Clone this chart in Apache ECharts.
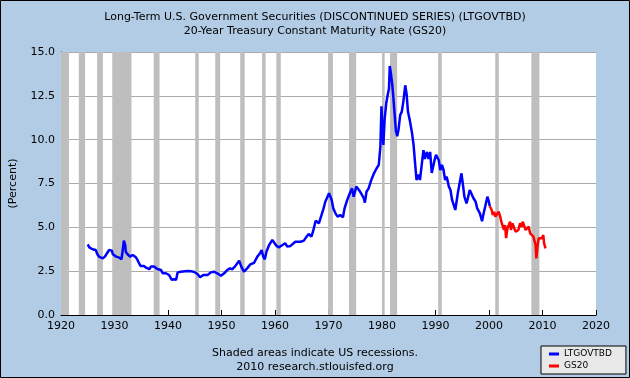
<!DOCTYPE html>
<html>
<head>
<meta charset="utf-8">
<script src="https://cdn.jsdelivr.net/npm/echarts@6/dist/echarts.min.js"></script>
<style>
html,body{margin:0;padding:0;background:#B3CCE5;}
#chart{width:630px;height:378px;}
</style>
</head>
<body>
<div id="chart"></div>
<script>
// ---- Data ----
const titleLines = [
  "Long-Term U.S. Government Securities (DISCONTINUED SERIES) (LTGOVTBD)",
  "20-Year Treasury Constant Maturity Rate (GS20)"
];
const seriesNames = ["LTGOVTBD", "GS20"];
const yTicks = [0, 2.5, 5, 7.5, 10, 12.5, 15];
const xTicks = [1920, 1930, 1940, 1950, 1960, 1970, 1980, 1990, 2000, 2010, 2020];

const recessionStart = [1920.0, 1923.33, 1926.75, 1929.58, 1937.33, 1945.08, 1948.83, 1953.5, 1957.58, 1960.25, 1969.92, 1973.83, 1980.0, 1981.5, 1990.5, 2001.17, 2007.92];
const recessionEnd   = [1921.5, 1924.5, 1927.83, 1933.17, 1938.42, 1945.75, 1949.75, 1954.33, 1958.25, 1961.08, 1970.83, 1975.17, 1980.5, 1982.83, 1991.17, 2001.83, 2009.42];

const ltYears = [
  1925.0,1925.3,1925.9,1926.5,1926.8,1927.1,1927.8,1928.2,1928.6,1929.0,1929.5,1929.7,1930.3,1930.9,1931.3,1931.5,1931.75,1932.0,1932.1,1932.4,1932.9,1933.4,1933.7,1934.0,1934.3,1934.6,1934.9,1935.2,1935.5,1935.9,1936.5,1936.8,1937.4,1938.0,1938.7,1939.0,1939.6,1939.9,1940.2,1940.7,1941.1,1941.5,1941.8,1942.4,1943.6,1944.3,1944.9,1945.5,1946.0,1946.6,1947.4,1948.0,1948.6,1949.2,1949.9,1950.5,1951.1,1951.6,1952.0,1952.5,1953.3,1953.7,1954.2,1954.8,1955.4,1956.1,1956.7,1957.2,1957.5,1957.8,1958.1,1958.4,1958.9,1959.5,1959.8,1960.3,1960.7,1961.4,1961.9,1962.3,1962.9,1963.8,1964.8,1965.4,1965.9,1966.3,1966.8,1967.1,1967.6,1968.2,1968.6,1969.0,1969.4,1970.1,1970.6,1970.9,1971.3,1971.7,1972.2,1972.7,1973.0,1973.5,1974.1,1974.4,1974.7,1975.2,1975.7,1976.1,1976.6,1976.8,1977.1,1977.5,1978.0,1978.5,1979.0,1979.4,1979.7,1979.9,1980.05,1980.25,1980.5,1980.8,1981.1,1981.3,1981.45,1981.7,1981.9,1982.1,1982.35,1982.6,1982.85,1983.1,1983.4,1983.7,1984.0,1984.35,1984.6,1984.85,1985.2,1985.6,1985.9,1986.2,1986.45,1986.8,1987.1,1987.4,1987.75,1988.0,1988.4,1988.7,1989.0,1989.3,1989.8,1990.1,1990.6,1990.9,1991.2,1991.5,1991.8,1992.1,1992.5,1992.8,1993.1,1993.7,1994.2,1994.85,1995.1,1995.4,1995.8,1996.0,1996.4,1996.7,1997.1,1997.5,1997.8,1998.3,1998.7,1999.0,1999.3,1999.7,1999.95,2000.15
];
const ltValues = [
  4.03,3.86,3.75,3.71,3.46,3.33,3.23,3.33,3.52,3.71,3.67,3.46,3.33,3.27,3.18,3.61,4.24,3.99,3.61,3.48,3.33,3.42,3.52,3.29,3.14,2.95,2.79,2.85,2.79,2.70,2.61,2.76,2.76,2.62,2.57,2.38,2.38,2.28,2.28,2.00,2.04,2.00,2.43,2.47,2.51,2.50,2.45,2.34,2.15,2.28,2.28,2.43,2.47,2.38,2.24,2.38,2.57,2.66,2.61,2.76,3.10,2.76,2.47,2.66,2.89,2.98,3.33,3.52,3.71,3.33,3.18,3.61,3.99,4.28,4.34,3.94,3.86,3.99,4.09,3.90,3.94,4.18,4.18,4.24,4.47,4.62,4.47,4.75,5.38,5.23,5.61,5.99,6.46,6.94,6.56,6.08,5.80,5.61,5.70,5.57,6.08,6.56,7.03,7.22,6.75,7.32,7.13,6.94,6.66,6.41,7.03,7.22,7.70,8.08,8.37,8.56,9.6,11.9,10.8,9.7,11.2,12.1,12.6,12.9,14.2,13.7,13.2,12.5,11.5,10.5,10.2,10.6,11.4,11.6,12.2,13.1,12.6,11.6,11.1,10.4,9.7,8.6,7.7,8.0,7.7,8.5,9.4,8.9,9.3,8.9,9.3,8.1,8.8,9.13,8.84,8.27,8.56,8.27,7.70,7.89,7.32,7.13,6.56,5.99,7.0,8.08,7.51,6.75,6.37,6.6,7.13,7.03,6.66,6.46,6.08,5.80,5.35,5.8,6.2,6.75,6.5,6.2
];

const gsYears = [
  2000.15,2000.5,2000.7,2000.95,2001.2,2001.5,2001.8,2002.1,2002.3,2002.6,2002.8,2003.0,2003.2,2003.45,2003.7,2003.95,2004.1,2004.4,2004.7,2005.0,2005.3,2005.5,2005.8,2006.1,2006.3,2006.55,2006.85,2007.15,2007.4,2007.7,2008.0,2008.3,2008.5,2008.7,2008.85,2009.1,2009.3,2009.55,2009.85,2010.15,2010.3,2010.55
];
const gsValues = [
  6.20,5.99,5.70,5.89,5.61,5.70,5.89,5.61,5.32,5.23,4.85,5.13,4.38,4.95,5.13,5.32,4.85,5.23,4.95,4.75,4.66,4.85,5.23,5.04,5.32,5.23,4.85,4.95,5.04,4.66,4.66,4.47,4.56,3.99,3.23,3.99,4.38,4.47,4.38,4.56,4.09,3.80
];

const footerLines = ["Shaded areas indicate US recessions.", "2010 research.stlouisfed.org"];

// ---- Build chart ----
const FONT = "DejaVu Sans";
const ltData = ltYears.map((x, i) => [x, ltValues[i]]);
const gsData = gsYears.map((x, i) => [x, gsValues[i]]);
const bands = recessionStart.map((s, i) => [{ xAxis: s }, { xAxis: recessionEnd[i] }]);

const chart = echarts.init(document.getElementById('chart'), null, { renderer: 'canvas' });
chart.setOption({
  backgroundColor: '#B3CCE5',
  animation: false,
  textStyle: { fontFamily: FONT },
  grid: { left: 60, top: 52, width: 536, height: 263, show: true, backgroundColor: '#FFFFFF', borderWidth: 0 },
  title: {
    text: titleLines.join('\n'),
    left: 'center',
    top: 5,
    textStyle: { fontFamily: FONT, fontSize: 11, fontWeight: 'normal', color: '#000', lineHeight: 14 }
  },
  legend: {
    orient: 'vertical',
    left: 541, top: 346,
    backgroundColor: '#E8E8E8',
    borderColor: '#000', borderWidth: 1,
    padding: [3, 14, 3, 8],
    itemWidth: 10, itemHeight: 3, itemGap: 2,
    icon: 'rect',
    textStyle: { fontFamily: FONT, fontSize: 9, color: '#000', lineHeight: 10 },
    data: seriesNames
  },
  xAxis: {
    type: 'value', min: xTicks[0], max: xTicks[xTicks.length - 1], interval: 10,
    axisLine: { show: true, lineStyle: { color: '#000', width: 1 } },
    axisTick: { show: true, inside: true, length: 5, lineStyle: { color: '#000' } },
    axisLabel: { fontFamily: FONT, fontSize: 11, color: '#000', margin: 6, formatter: v => String(v) },
    splitLine: { show: false }
  },
  yAxis: {
    type: 'value', min: yTicks[0], max: yTicks[yTicks.length - 1], interval: 2.5,
    name: '(Percent)', nameLocation: 'middle', nameGap: 42,
    nameTextStyle: { fontFamily: FONT, fontSize: 11, color: '#000' },
    axisLine: { show: true, lineStyle: { color: '#000', width: 1 } },
    axisTick: { show: true, inside: true, length: 4, lineStyle: { color: '#000' } },
    axisLabel: { fontFamily: FONT, fontSize: 11, color: '#000', margin: 6, formatter: v => v.toFixed(1) },
    splitLine: { show: true, lineStyle: { color: '#AAAAAA', width: 1 } }
  },
  graphic: [
    { type: 'rect', shape: { x: 0.5, y: 0.5, width: 629, height: 377 }, style: { fill: 'none', stroke: '#000', lineWidth: 1 }, z: 100 },
    { type: 'text', left: 'center', top: 346, style: { text: footerLines.join('\n'), font: '11px "DejaVu Sans"', fill: '#000', textAlign: 'center', lineHeight: 14 } }
  ],
  series: [
    { name: 'recessions', type: 'line', data: [], z: 1, silent: true,
      markArea: { silent: true, itemStyle: { color: '#BEBEBE' }, data: bands } },
    { name: seriesNames[0], type: 'line', data: ltData, showSymbol: false, z: 3,
      lineStyle: { color: '#0000FF', width: 2.5 }, itemStyle: { color: '#0000FF' } },
    { name: seriesNames[1], type: 'line', data: gsData, showSymbol: false, z: 3,
      lineStyle: { color: '#FF0000', width: 2.5 }, itemStyle: { color: '#FF0000' } }
  ]
});
</script>
</body>
</html>
